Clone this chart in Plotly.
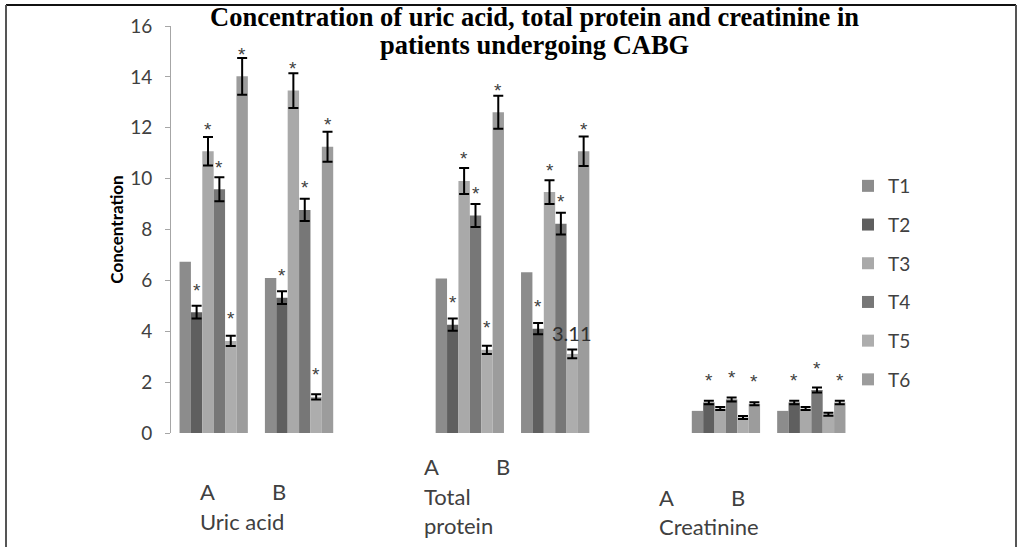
import plotly.graph_objects as go

# ---------------- data ----------------
series_names = ["T1", "T2", "T3", "T4", "T5", "T6"]
analytes = ["Uric acid", "Total protein", "Creatinine"]
subgroups = ["A", "B"]
# order of values: Uric A, Uric B, Protein A, Protein B, Creatinine A, Creatinine B
T1 = [6.73, 6.09, 6.07, 6.32, 0.87, 0.87]
T2 = [4.75, 5.32, 4.26, 4.10, 1.20, 1.20]
T3 = [11.08, 13.46, 9.91, 9.47, 0.96, 0.96]
T4 = [9.58, 8.77, 8.55, 8.23, 1.32, 1.69]
T5 = [3.62, 1.42, 3.27, 3.11, 0.61, 0.74]
T6 = [14.02, 11.25, 12.61, 11.08, 1.15, 1.20]

T1_err = [None, None, None, None, None, None]
T2_err = [0.25, 0.25, 0.24, 0.22, 0.07, 0.07]
T3_err = [0.56, 0.68, 0.51, 0.47, 0.06, 0.06]
T4_err = [0.47, 0.44, 0.45, 0.43, 0.08, 0.10]
T5_err = [0.20, 0.10, 0.16, 0.17, 0.06, 0.06]
T6_err = [0.72, 0.59, 0.65, 0.58, 0.06, 0.07]

# significance marks / value labels shown above bars ("" = none)
T1_lab = ["", "", "", "", "", ""]
T2_lab = ["*", "*", "*", "*", "*", "*"]
T3_lab = ["*", "*", "*", "*", "", ""]
T4_lab = ["*", "*", "*", "*", "*", "*"]
T5_lab = ["*", "*", "*", "3.11", "", ""]
T6_lab = ["*", "*", "*", "*", "*", "*"]

values = [T1, T2, T3, T4, T5, T6]
errors = [T1_err, T2_err, T3_err, T4_err, T5_err, T6_err]
labels = [T1_lab, T2_lab, T3_lab, T4_lab, T5_lab, T6_lab]

title_lines = ["Concentration of uric acid, total protein and creatinine in",
               "patients undergoing CABG"]
y_title = "Concentration"

# ---------------- style ----------------
colors = ["#8c8c8c", "#5f5f5f", "#a9a9a9", "#777777", "#adadad", "#9c9c9c"]
W, H = 1018, 547
L, R, T, B = 171, 164, 26, 114
BARGAP = 0.2
FONT = "Lato"
TXT = "#404040"

# slot position of each (analyte, subgroup); empty slot between analytes
slots = [3 * g + s for g in range(len(analytes)) for s in range(len(subgroups))]

fig = go.Figure()
for k, name in enumerate(series_names):
    err = errors[k]
    has_err = any(e is not None for e in err)
    fig.add_trace(go.Bar(
        name=name, x=slots, y=values[k],
        marker=dict(color=colors[k], line=dict(width=0)),
        error_y=dict(type="data", array=[e if e is not None else 0 for e in err],
                     visible=has_err, color="black", thickness=2, width=5),
        legendgroup=name,
    ))

# labels above the bars, positioned with the same grouping the bars use
n = len(series_names)
bw = (1 - BARGAP) / n
annotations = []
for k in range(n):
    for i, slot in enumerate(slots):
        lab = labels[k][i]
        if not lab:
            continue
        xk = slot - (1 - BARGAP) / 2 + (k + 0.5) * bw
        if lab == "*":
            annotations.append(dict(x=xk, y=values[k][i], xref="x", yref="y", text="*",
                                    showarrow=False, yanchor="middle", yshift=22,
                                    font=dict(family="Liberation Sans", size=19, color="#404040")))
        else:
            annotations.append(dict(x=xk, y=values[k][i], xref="x", yref="y", text=lab,
                                    showarrow=False, yanchor="middle", yshift=21,
                                    font=dict(family=FONT, size=20, color="#303030")))


def px_x(p):
    return (p - L) / (W - L - R)


def px_y(p):
    return (H - B - p) / (H - T - B)


# title (two centred lines)
for line, ymid in zip(title_lines, [17, 45]):
    annotations.append(dict(x=px_x(534), y=px_y(ymid), xref="paper", yref="paper",
                            text="<b>" + line + "</b>", showarrow=False,
                            xanchor="center", yanchor="middle",
                            font=dict(family="Liberation Serif", size=26.5, color="black")))

# category labels under the axis (as laid out in the original)
cat_layout = [
    # (left px, A/B middle px, name middle px list)
    (198, 491, [521]),
    (422, 466, [496, 525]),
    (657, 497, [526]),
]
ab_gap = 72
name_lines = [["Uric acid"], ["Total", "protein"], ["Creatinine"]]
for g, (left, ab_y, nys) in enumerate(cat_layout):
    for s, sub in enumerate(subgroups):
        annotations.append(dict(x=px_x(left + s * ab_gap), y=px_y(ab_y), xref="paper", yref="paper",
                                text=sub, showarrow=False, xanchor="left", yanchor="middle",
                                font=dict(family=FONT, size=22, color=TXT)))
    for line, ny in zip(name_lines[g], nys):
        annotations.append(dict(x=px_x(left), y=px_y(ny), xref="paper", yref="paper",
                                text=line, showarrow=False, xanchor="left", yanchor="middle",
                                font=dict(family=FONT, size=22, color=TXT)))

# outer frame of the original picture
shapes = [
    dict(type="line", xref="paper", yref="paper", x0=px_x(6), x1=px_x(1016), y0=px_y(5), y1=px_y(5),
         line=dict(color="#111111", width=2)),
    dict(type="line", xref="paper", yref="paper", x0=px_x(6), x1=px_x(6), y0=px_y(5), y1=px_y(560),
         line=dict(color="#555555", width=2)),
    dict(type="line", xref="paper", yref="paper", x0=px_x(1016), x1=px_x(1016), y0=px_y(5), y1=px_y(560),
         line=dict(color="#555555", width=2)),
]

fig.update_layout(
    width=W, height=H,
    margin=dict(l=L, r=R, t=T, b=B, pad=0),
    paper_bgcolor="white", plot_bgcolor="white",
    barmode="group", bargap=BARGAP, bargroupgap=0,
    xaxis=dict(range=[-0.5, 7.5], showticklabels=False, showline=False, showgrid=False,
               zeroline=False, ticks=""),
    yaxis=dict(range=[0, 16], dtick=2, showgrid=False, zeroline=False, showline=True,
               linecolor="#a6a6a6", linewidth=1, ticks="outside", ticklen=5, tickcolor="#a6a6a6",
               ticklabelstandoff=9,
               tickfont=dict(family=FONT, size=19, color=TXT),
               title=dict(text="<b>" + y_title + "</b>", standoff=2,
                          font=dict(family=FONT, size=17, color="black"))),
    legend=dict(x=px_x(848), xanchor="left", y=px_y(167), yanchor="top",
                traceorder="grouped", tracegroupgap=11,
                font=dict(family=FONT, size=19, color=TXT), bgcolor="rgba(0,0,0,0)"),
    annotations=annotations,
    shapes=shapes,
)

fig.write_html("out.html", config={"displayModeBar": False},
               post_script="document.body.style.margin='0';")
